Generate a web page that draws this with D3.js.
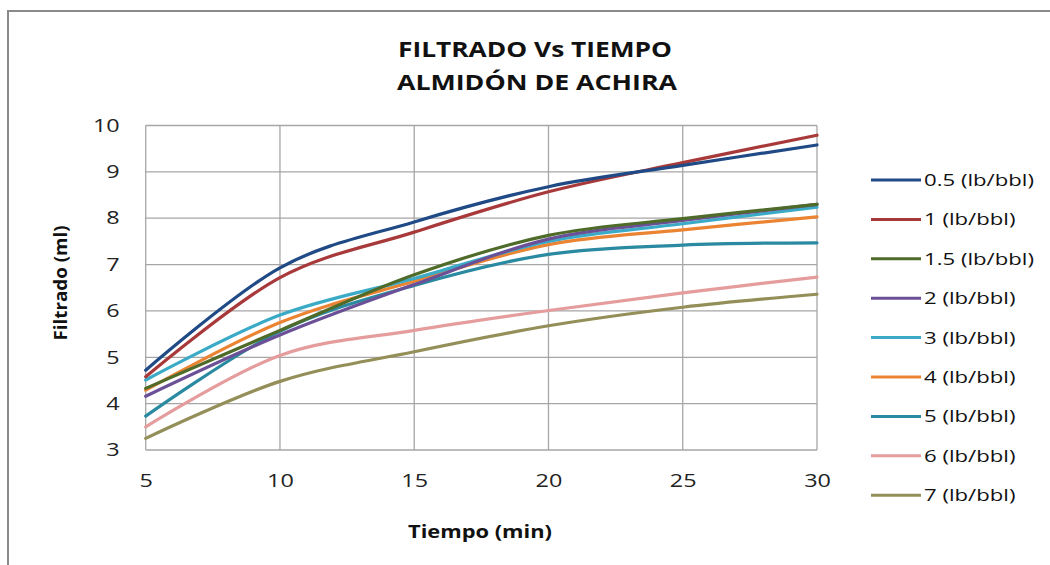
<!DOCTYPE html>
<html><head><meta charset="utf-8">
<script src="https://cdn.jsdelivr.net/npm/d3@7"></script>
<style>body{margin:0;background:#fff}svg{display:block}</style>
</head><body>
<svg id="c" width="1050" height="565"></svg>
<script>
const times = [5, 10, 15, 20, 25, 30];
const seriesNames = ["0.5 (lb/bbl)","1 (lb/bbl)","1.5 (lb/bbl)","2 (lb/bbl)","3 (lb/bbl)","4 (lb/bbl)","5 (lb/bbl)","6 (lb/bbl)","7 (lb/bbl)"];
const s05 = [4.72, 6.93, 7.92, 8.68, 9.14, 9.58];
const s1  = [4.58, 6.72, 7.70, 8.57, 9.20, 9.79];
const s15 = [4.33, 5.58, 6.78, 7.63, 7.99, 8.30];
const s2  = [4.16, 5.48, 6.57, 7.55, 7.95, 8.30];
const s3  = [4.51, 5.91, 6.70, 7.50, 7.88, 8.24];
const s4  = [4.29, 5.75, 6.64, 7.43, 7.75, 8.03];
const s5  = [3.73, 5.56, 6.55, 7.22, 7.42, 7.47];
const s6  = [3.50, 5.04, 5.58, 6.01, 6.39, 6.73];
const s7  = [3.25, 4.48, 5.12, 5.68, 6.08, 6.36];
const seriesValues = [s05, s1, s15, s2, s3, s4, s5, s6, s7];
const colors = ["#1f4a86","#a8393a","#4f6b2a","#6b5097","#3aaac6","#ea8433","#2a8aa1","#e59c9c","#948e58"];
const xTicks = [5,10,15,20,25,30];
const yTicks = [3,4,5,6,7,8,9,10];

const svg = d3.select("#c");
const font = "'Open Sans', 'Liberation Sans', sans-serif";
function fit(sel, w){ sel.attr("textLength", w).attr("lengthAdjust","spacingAndGlyphs"); }

// outer frame
svg.append("rect").attr("x",8).attr("y",11).attr("width",1100).attr("height",600)
  .attr("fill","none").attr("stroke","#8a8a8a").attr("stroke-width",2);

const L = 145.7, R = 817, T = 125.5, B = 450;
const x = d3.scaleLinear().domain([5,30]).range([L,R]);
const y = d3.scaleLinear().domain([3,10]).range([B,T]);

// grid
const g = svg.append("g");
g.selectAll(".gy").data(yTicks).join("line")
  .attr("x1",L).attr("x2",R).attr("y1",d=>y(d)).attr("y2",d=>y(d))
  .attr("stroke","#a6a6a6").attr("stroke-width",1.3);
g.selectAll(".gx").data(xTicks).join("line")
  .attr("y1",T).attr("y2",B).attr("x1",d=>x(d)).attr("x2",d=>x(d))
  .attr("stroke","#a6a6a6").attr("stroke-width",1.3);

// axes labels via d3 axes
const ax = svg.append("g").attr("transform",`translate(0,${B})`)
  .call(d3.axisBottom(x).tickValues(xTicks).tickFormat(d3.format("d")).tickSize(0).tickPadding(24));
ax.select(".domain").remove();
ax.selectAll("text").attr("font-family",font).attr("font-size",18).attr("fill","#222")
  .each(function(){ const w=this.getComputedTextLength(); d3.select(this).call(fit, w*1.3); });
const ay = svg.append("g").attr("transform",`translate(${L},0)`)
  .call(d3.axisLeft(y).tickValues(yTicks).tickFormat(d3.format("d")).tickSize(0).tickPadding(26));
ay.select(".domain").remove();
ay.selectAll("text").attr("font-family",font).attr("font-size",18).attr("fill","#222")
  .each(function(){ const w=this.getComputedTextLength(); d3.select(this).call(fit, w*1.3); });

// lines (Excel-style smoothing)
const line = d3.line().x((d,i)=>x(times[i])).y(d=>y(d)).curve(d3.curveCardinal.tension(0));
const order = [8,7,6,5,4,3,2,1,0];
svg.append("g").selectAll("path").data(order).join("path")
  .attr("d",i=>line(seriesValues[i])).attr("fill","none")
  .attr("stroke",i=>colors[i]).attr("stroke-width",3.2).attr("stroke-linecap","round");

// titles
svg.append("text").attr("x",535).attr("y",57).attr("text-anchor","middle")
  .attr("font-family",font).attr("font-weight","bold").attr("font-size",21).attr("fill","#111")
  .text("FILTRADO Vs TIEMPO").call(fit, 274);
svg.append("text").attr("x",537).attr("y",90).attr("text-anchor","middle")
  .attr("font-family",font).attr("font-weight","bold").attr("font-size",21).attr("fill","#111")
  .text("ALMIDÓN DE ACHIRA").call(fit, 280);
svg.append("text").attr("x",480).attr("y",538).attr("text-anchor","middle")
  .attr("font-family",font).attr("font-weight","bold").attr("font-size",17).attr("fill","#111")
  .text("Tiempo (min)").call(fit, 144);
svg.append("text").attr("transform","translate(67,283) rotate(-90)").attr("text-anchor","middle")
  .attr("font-family",font).attr("font-weight","bold").attr("font-size",17).attr("fill","#111")
  .text("Filtrado (ml)").call(fit, 115);

// legend
const lg = svg.append("g");
const rows = lg.selectAll("g").data(seriesNames).join("g")
  .attr("transform",(d,i)=>`translate(871,${180 + i*39.4})`);
rows.append("line").attr("x1",0).attr("x2",50).attr("stroke",(d,i)=>colors[i]).attr("stroke-width",3);
const lt = rows.append("text").attr("x",53).attr("dy","0.35em")
  .attr("font-family",font).attr("font-size",17).attr("fill","#111").text(d=>d);
const w0 = lt.node().getComputedTextLength();
const k = 110 / w0;
lt.each(function(){ const w=this.getComputedTextLength(); d3.select(this).call(fit, w*k); });
</script>
</body></html>
